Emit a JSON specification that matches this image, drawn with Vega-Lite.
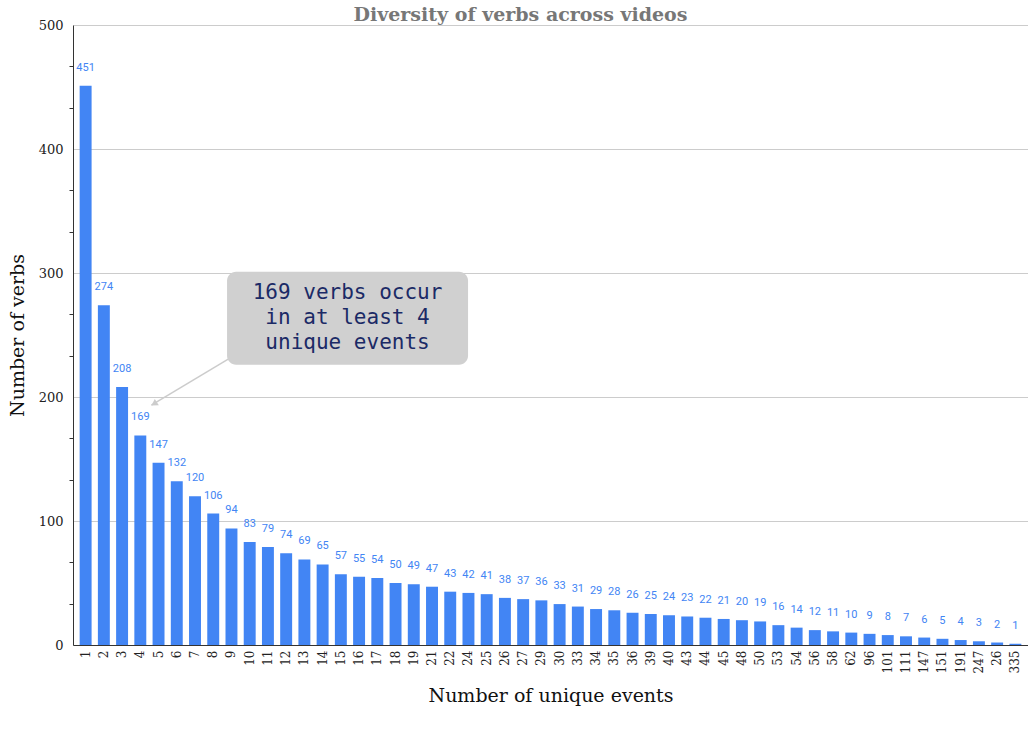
{
  "$schema": "https://vega.github.io/schema/vega-lite/v6.json",
  "autosize": {"type": "none"},
  "width": 955,
  "height": 620,
  "padding": {"left": 73, "top": 25, "right": 0, "bottom": 89},
  "background": "white",
  "title": {
    "text": "Diversity of verbs across videos",
    "font": "DejaVu Serif",
    "fontWeight": "bold",
    "fontSize": 19,
    "color": "#777777",
    "anchor": "middle",
    "dx": -30,
    "offset": -6
  },
  "config": {
    "view": {"stroke": null},
    "axis": {"labelFont": "DejaVu Serif", "titleFont": "DejaVu Serif", "titleFontWeight": "normal"}
  },
  "datasets": {
    "bars": [
      {"order": 1, "events": "1", "verbs": 451},
      {"order": 2, "events": "2", "verbs": 274},
      {"order": 3, "events": "3", "verbs": 208},
      {"order": 4, "events": "4", "verbs": 169},
      {"order": 5, "events": "5", "verbs": 147},
      {"order": 6, "events": "6", "verbs": 132},
      {"order": 7, "events": "7", "verbs": 120},
      {"order": 8, "events": "8", "verbs": 106},
      {"order": 9, "events": "9", "verbs": 94},
      {"order": 10, "events": "10", "verbs": 83},
      {"order": 11, "events": "11", "verbs": 79},
      {"order": 12, "events": "12", "verbs": 74},
      {"order": 13, "events": "13", "verbs": 69},
      {"order": 14, "events": "14", "verbs": 65},
      {"order": 15, "events": "15", "verbs": 57},
      {"order": 16, "events": "16", "verbs": 55},
      {"order": 17, "events": "17", "verbs": 54},
      {"order": 18, "events": "18", "verbs": 50},
      {"order": 19, "events": "19", "verbs": 49},
      {"order": 20, "events": "21", "verbs": 47},
      {"order": 21, "events": "22", "verbs": 43},
      {"order": 22, "events": "24", "verbs": 42},
      {"order": 23, "events": "25", "verbs": 41},
      {"order": 24, "events": "26", "verbs": 38},
      {"order": 25, "events": "27", "verbs": 37},
      {"order": 26, "events": "29", "verbs": 36},
      {"order": 27, "events": "30", "verbs": 33},
      {"order": 28, "events": "33", "verbs": 31},
      {"order": 29, "events": "34", "verbs": 29},
      {"order": 30, "events": "35", "verbs": 28},
      {"order": 31, "events": "36", "verbs": 26},
      {"order": 32, "events": "39", "verbs": 25},
      {"order": 33, "events": "40", "verbs": 24},
      {"order": 34, "events": "43", "verbs": 23},
      {"order": 35, "events": "44", "verbs": 22},
      {"order": 36, "events": "45", "verbs": 21},
      {"order": 37, "events": "48", "verbs": 20},
      {"order": 38, "events": "50", "verbs": 19},
      {"order": 39, "events": "53", "verbs": 16},
      {"order": 40, "events": "54", "verbs": 14},
      {"order": 41, "events": "56", "verbs": 12},
      {"order": 42, "events": "58", "verbs": 11},
      {"order": 43, "events": "62", "verbs": 10},
      {"order": 44, "events": "96", "verbs": 9},
      {"order": 45, "events": "101", "verbs": 8},
      {"order": 46, "events": "111", "verbs": 7},
      {"order": 47, "events": "147", "verbs": 6},
      {"order": 48, "events": "151", "verbs": 5},
      {"order": 49, "events": "191", "verbs": 4},
      {"order": 50, "events": "247", "verbs": 3},
      {"order": 51, "events": "26 ", "verbs": 2},
      {"order": 52, "events": "335", "verbs": 1}
    ],
    "note": [
      {"x1": 8.45, "x2": 21.67, "y1": 226, "y2": 301, "tx": 15.06, "ty": 283.9,
       "text": "169 verbs occur\nin at least 4\nunique events",
       "ax1": 8.56, "ay1": 231, "ax2": 4.3, "ay2": 193.5, "hx": 4.45, "hy": 194.5}
    ]
  },
  "layer": [
    {
      "data": {"name": "bars"},
      "encoding": {
        "x": {
          "field": "events", "type": "ordinal",
          "sort": {"field": "order"},
          "scale": {"paddingInner": 0.345, "paddingOuter": 0.365},
          "title": "Number of unique events",
          "axis": {
            "labelAngle": -90, "labelFontSize": 12, "labelColor": "#222222",
            "labelPadding": 5, "ticks": false, "domainColor": "#333333",
            "titleFontSize": 19, "titleColor": "#111111", "titlePadding": 14
          }
        },
        "y": {
          "field": "verbs", "type": "quantitative",
          "scale": {"domain": [0, 500], "nice": false},
          "title": "Number of verbs",
          "axis": {
            "values": [0, 33.333, 66.667, 100, 133.333, 166.667, 200, 233.333, 266.667, 300, 333.333, 366.667, 400, 433.333, 466.667, 500],
            "labelExpr": "abs(datum.value/100 - round(datum.value/100)) < 0.01 ? format(datum.value, 'd') : ''",
            "labelFontSize": 13, "labelColor": "#222222", "labelPadding": 6,
            "tickSize": 4, "tickColor": "#333333",
            "tickOpacity": {"condition": {"test": "abs(datum.value/100 - round(datum.value/100)) < 0.01", "value": 0}, "value": 1},
            "grid": true, "gridColor": "#cccccc",
            "gridOpacity": {"condition": {"test": "abs(datum.value/100 - round(datum.value/100)) < 0.01", "value": 1}, "value": 0},
            "domainColor": "#333333",
            "titleFontSize": 19, "titleColor": "#111111", "titlePadding": 11
          }
        }
      },
      "layer": [
        {"mark": {"type": "bar", "color": "#4285f4"}},
        {
          "mark": {"type": "text", "font": "Roboto", "fontSize": 11, "color": "#4285f4", "baseline": "bottom", "dy": -13},
          "encoding": {"text": {"field": "verbs", "type": "quantitative"}}
        }
      ]
    },
    {
      "data": {"name": "note"},
      "layer": [
        {
          "mark": {"type": "rule", "color": "#cccccc", "strokeWidth": 1.5},
          "encoding": {
            "x": {"field": "ax1", "type": "quantitative", "scale": {"domain": [0, 52.385]}, "axis": null},
            "x2": {"field": "ax2"},
            "y": {"field": "ay1", "type": "quantitative"},
            "y2": {"field": "ay2"}
          }
        },
        {
          "mark": {"type": "point", "shape": "triangle-up", "filled": true, "color": "#cccccc", "size": 55, "angle": 236.5, "opacity": 1},
          "encoding": {
            "x": {"field": "hx", "type": "quantitative", "scale": {"domain": [0, 52.385]}, "axis": null},
            "y": {"field": "hy", "type": "quantitative"}
          }
        },
        {
          "mark": {"type": "rect", "color": "#d0d0d0", "cornerRadius": 9},
          "encoding": {
            "x": {"field": "x1", "type": "quantitative", "scale": {"domain": [0, 52.385]}, "axis": null},
            "x2": {"field": "x2"},
            "y": {"field": "y1", "type": "quantitative"},
            "y2": {"field": "y2"}
          }
        },
        {
          "mark": {"type": "text", "font": "DejaVu Sans Mono", "fontSize": 21, "color": "#1b2a66", "align": "center", "baseline": "middle", "lineHeight": 25, "lineBreak": "\n"},
          "encoding": {
            "x": {"field": "tx", "type": "quantitative", "scale": {"domain": [0, 52.385]}, "axis": null},
            "y": {"field": "ty", "type": "quantitative"},
            "text": {"field": "text"}
          }
        }
      ]
    }
  ],
  "resolve": {"scale": {"x": "independent"}}
}
